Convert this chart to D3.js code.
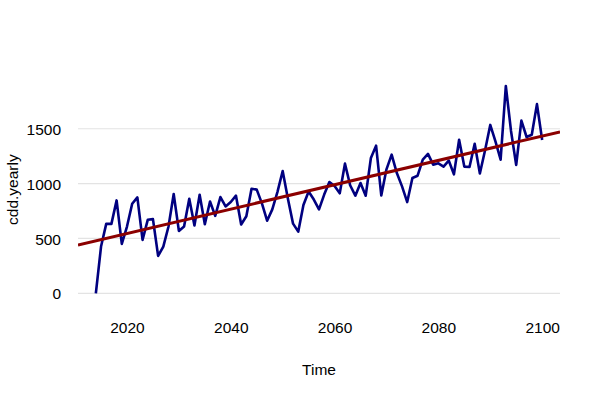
<!DOCTYPE html>
<html>
<head>
<meta charset="utf-8">
<script src="https://cdn.jsdelivr.net/npm/d3@7"></script>
<style>
  body { margin: 0; background: #fff; }
  text { font-family: "Liberation Sans", Arial, sans-serif; fill: #000; }
</style>
</head>
<body>
<div id="chart"></div>
<script>
var svgWidth = 600;
var svgHeight = 400;

// yearly cooling degree days
var years = d3.range(2014, 2101);
var cdd = [
    0, 426, 633, 633, 847, 451, 609, 816, 874, 487,
    670, 676, 341, 426, 609, 905, 569, 609, 862, 618,
    898, 630, 837, 706, 877, 792, 832, 890, 627, 702,
    953, 945, 820, 662, 765, 925, 1115, 865, 635, 562,
    805, 928, 855, 765, 900, 1015, 978, 912, 1182, 985,
    890, 1005, 890, 1234, 1346, 892, 1130, 1264, 1096, 975,
    832, 1051, 1072, 1219, 1271, 1173, 1185, 1155, 1210, 1085,
    1400, 1155, 1152, 1363, 1093, 1305, 1535, 1385, 1218, 1890,
    1480, 1170, 1575, 1425, 1445, 1725, 1398
];

// linear trend (value at 2014 and slope per year)
var trendAt2014 = 479;
var trendSlope = 11.1;

var xTicks = [2020, 2040, 2060, 2080, 2100];
var yTicks = [0, 500, 1000, 1500];

var plot = { left: 78, right: 560, top: 77.7, bottom: 301.6 };

var data = years.map(function(y, i) { return { year: y, value: cdd[i] }; });

// R style 4% padding around the data range
var xPad = (d3.max(years) - d3.min(years)) * 0.04;
var yPad = (d3.max(cdd) - d3.min(cdd)) * 0.04;

var xScale = d3.scaleLinear()
    .domain([d3.min(years) - xPad, d3.max(years) + xPad])
    .range([plot.left, plot.right]);

var yScale = d3.scaleLinear()
    .domain([d3.min(cdd) - yPad, d3.max(cdd) + yPad])
    .range([plot.bottom, plot.top]);

var svg = d3.select("#chart")
    .append("svg")
    .attr("width", svgWidth)
    .attr("height", svgHeight);

svg.append("rect")
    .attr("width", svgWidth)
    .attr("height", svgHeight)
    .attr("fill", "#fff");

svg.append("defs").append("clipPath")
    .attr("id", "plotClip")
    .append("rect")
    .attr("x", plot.left)
    .attr("y", plot.top)
    .attr("width", plot.right - plot.left)
    .attr("height", plot.bottom - plot.top);

// horizontal gridlines
svg.append("g").selectAll("line")
    .data(yTicks)
    .enter()
    .append("line")
    .attr("x1", plot.left)
    .attr("x2", plot.right)
    .attr("y1", d => yScale(d))
    .attr("y2", d => yScale(d))
    .attr("stroke", "#e3e3e3")
    .attr("stroke-width", 1.2);

// axes without lines or tick marks
var leftAxis = d3.axisLeft(yScale)
    .tickValues(yTicks)
    .tickFormat(d3.format("d"))
    .tickSize(0)
    .tickPadding(0);

var bottomAxis = d3.axisBottom(xScale)
    .tickValues(xTicks)
    .tickFormat(d3.format("d"))
    .tickSize(0)
    .tickPadding(0);

var yAxisG = svg.append("g")
    .attr("transform", `translate(${plot.left - 17}, 0)`)
    .call(leftAxis);

var xAxisG = svg.append("g")
    .attr("transform", `translate(0, 322)`)
    .call(bottomAxis);

[yAxisG, xAxisG].forEach(function(g) {
    g.select(".domain").remove();
    g.selectAll("text")
        .attr("font-family", "Liberation Sans, Arial, sans-serif")
        .attr("font-size", "15.5px")
        .attr("fill", "#000");
});
yAxisG.selectAll("text").attr("dy", "0.36em");
xAxisG.selectAll("text").attr("dy", "0.72em");

// series line
var line = d3.line()
    .x(d => xScale(d.year))
    .y(d => yScale(d.value));

svg.append("path")
    .datum(data)
    .attr("d", line)
    .attr("fill", "none")
    .attr("stroke", "#000080")
    .attr("stroke-width", 2.6)
    .attr("stroke-linejoin", "round");

// trend line across the whole plot
var trendLine = xScale.domain().map(function(yr) {
    return { year: yr, value: trendAt2014 + (yr - 2014) * trendSlope };
});

svg.append("path")
    .datum(trendLine)
    .attr("d", line)
    .attr("clip-path", "url(#plotClip)")
    .attr("fill", "none")
    .attr("stroke", "#8b0000")
    .attr("stroke-width", 3);

// axis titles
svg.append("text")
    .attr("x", (plot.left + plot.right) / 2)
    .attr("y", 375)
    .attr("text-anchor", "middle")
    .attr("font-size", "15.5px")
    .text("Time");

svg.append("text")
    .attr("transform", `translate(18, ${(plot.top + plot.bottom) / 2}) rotate(-90)`)
    .attr("text-anchor", "middle")
    .attr("font-size", "15.5px")
    .text("cdd.yearly");
</script>
</body>
</html>
